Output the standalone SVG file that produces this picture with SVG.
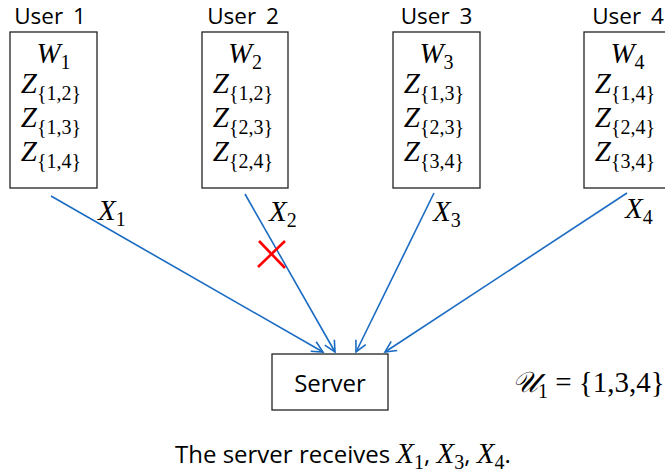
<svg xmlns="http://www.w3.org/2000/svg" width="665" height="476" viewBox="0 0 665 476">
<defs>
<style>
.lbl{font-family:"Open Sans","Liberation Sans",sans-serif;font-size:24px;fill:#000;text-anchor:middle}
.top{font-size:22.5px;word-spacing:4px}
.m{font-family:"Liberation Serif","DejaVu Serif",serif;font-style:italic;font-size:29px;fill:#000}
.s{font-style:normal;font-size:20px}
.box{fill:#fff;stroke:#222;stroke-width:1.3}
.conn{stroke:#1A6BC2;stroke-width:1.6;fill:none;marker-end:url(#ah)}
.mc{text-anchor:middle}
</style>
<marker id="ah" markerUnits="userSpaceOnUse" markerWidth="14" markerHeight="14" viewBox="-12 -6 14 12" refX="0" refY="0" orient="auto">
<path d="M-11,-5.5 L0,0 L-11,5.5" fill="none" stroke="#1A6BC2" stroke-width="1.6"/>
</marker>
</defs>
<rect width="665" height="476" fill="#fff"/>

<g id="user1">
<text class="lbl top" x="50" y="24">User 1</text>
<rect class="box" x="10" y="32" width="87" height="156"/>
<text class="m mc" x="53.5" y="63">W<tspan class="s" dy="6">1</tspan></text>
<text class="m mc" x="51" y="93">Z<tspan class="s" dy="7">{1,2}</tspan></text>
<text class="m mc" x="51" y="127">Z<tspan class="s" dy="7">{1,3}</tspan></text>
<text class="m mc" x="51" y="161">Z<tspan class="s" dy="7">{1,4}</tspan></text>
</g>

<g id="user2">
<text class="lbl top" x="243" y="24">User 2</text>
<rect class="box" x="202" y="32" width="86" height="156"/>
<text class="m mc" x="245" y="63">W<tspan class="s" dy="6">2</tspan></text>
<text class="m mc" x="243" y="93">Z<tspan class="s" dy="7">{1,2}</tspan></text>
<text class="m mc" x="243" y="127">Z<tspan class="s" dy="7">{2,3}</tspan></text>
<text class="m mc" x="243" y="161">Z<tspan class="s" dy="7">{2,4}</tspan></text>
</g>

<g id="user3">
<text class="lbl top" x="436.5" y="24">User 3</text>
<rect class="box" x="393" y="32" width="87" height="156"/>
<text class="m mc" x="436.5" y="63">W<tspan class="s" dy="6">3</tspan></text>
<text class="m mc" x="434" y="93">Z<tspan class="s" dy="7">{1,3}</tspan></text>
<text class="m mc" x="434" y="127">Z<tspan class="s" dy="7">{2,3}</tspan></text>
<text class="m mc" x="434" y="161">Z<tspan class="s" dy="7">{3,4}</tspan></text>
</g>

<g id="user4">
<text class="lbl top" x="628" y="24">User 4</text>
<rect class="box" x="584" y="32" width="87" height="156"/>
<text class="m mc" x="627.5" y="63">W<tspan class="s" dy="6">4</tspan></text>
<text class="m mc" x="625" y="93">Z<tspan class="s" dy="7">{1,4}</tspan></text>
<text class="m mc" x="625" y="127">Z<tspan class="s" dy="7">{2,4}</tspan></text>
<text class="m mc" x="625" y="161">Z<tspan class="s" dy="7">{3,4}</tspan></text>
</g>

<g id="server">
<rect class="box" x="272" y="354" width="116" height="56"/>
<text class="lbl" x="330" y="392">Server</text>
</g>

<g id="connectors">
<line class="conn" x1="51" y1="196" x2="323" y2="352"/>
<line class="conn" x1="245" y1="194" x2="335" y2="352"/>
<line class="conn" x1="434" y1="193" x2="356" y2="352"/>
<line class="conn" x1="627" y1="193" x2="385" y2="352"/>
<text class="m" x="98" y="220">X<tspan class="s" dy="6">1</tspan></text>
<text class="m" x="269" y="221">X<tspan class="s" dy="6">2</tspan></text>
<text class="m" x="433" y="221">X<tspan class="s" dy="6">3</tspan></text>
<text class="m" x="625" y="218">X<tspan class="s" dy="6">4</tspan></text>
<g id="blocked" stroke="#FF0000" stroke-width="2.6">
<line x1="259" y1="241" x2="285" y2="268"/>
<line x1="285" y1="241" x2="258" y2="267"/>
</g>
</g>

<g id="set">
<text class="m" x="512" y="392">𝒰<tspan class="s" dy="6">1</tspan><tspan dy="-6" font-style="normal"> = {1,3,4}</tspan></text>
</g>

<g id="caption">
<text x="175" y="463" style="font-family:'Open Sans','Liberation Sans',sans-serif;font-size:24px">The server receives <tspan class="m">X</tspan><tspan class="m s" dy="6">1</tspan><tspan dy="-6">, </tspan><tspan class="m">X</tspan><tspan class="m s" dy="6">3</tspan><tspan dy="-6">, </tspan><tspan class="m">X</tspan><tspan class="m s" dy="6">4</tspan><tspan dy="-6">.</tspan></text>
</g>
</svg>
